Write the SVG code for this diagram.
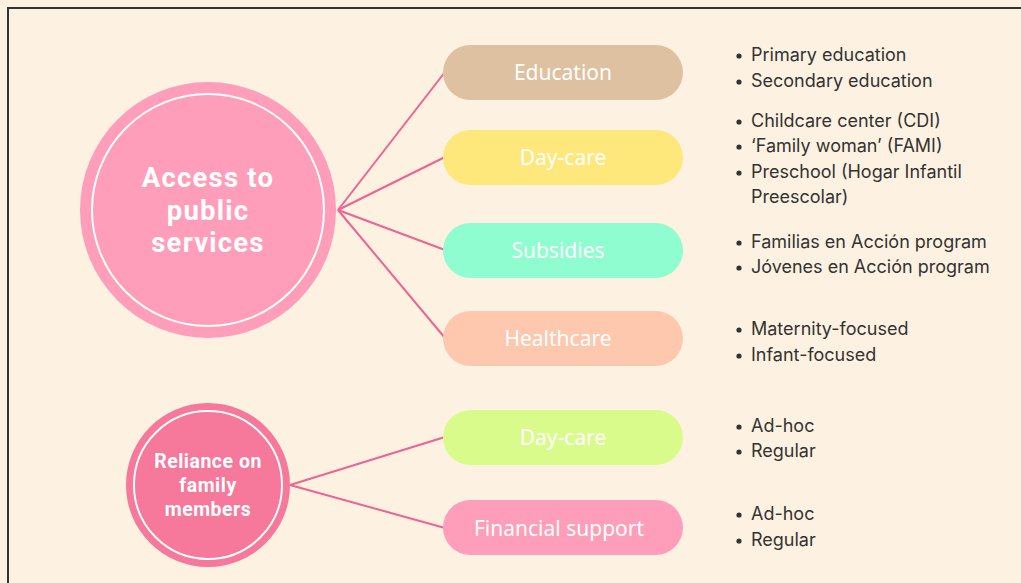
<svg xmlns="http://www.w3.org/2000/svg" width="1021" height="583" viewBox="0 0 1021 583">
<defs>
<style>
.bg{fill:#FDF2E1}
.frame{fill:none;stroke:#333;stroke-width:2}
.pill{stroke:none}
.pl{font-family:"Noto Sans",Inter,sans-serif;font-size:21px;fill:#FFFFFF;text-anchor:middle}
.ct{font-family:Roboto,"Noto Sans",sans-serif;font-weight:700;fill:#FFFFFF;text-anchor:middle}
.bt{font-family:Inter,"Noto Sans",sans-serif;font-size:18px;fill:#333333}
.dot{fill:#333333}
.conn{stroke:#EE6390;stroke-width:2;fill:none}
.ring{fill:none;stroke:#FFFFFF;stroke-width:2}
</style>
</defs>
<rect class="bg" x="0" y="0" width="1021" height="583"/>
<rect class="frame" x="8" y="8" width="1030" height="600"/>
<g id="connectors">
<line class="conn" x1="338" y1="210" x2="445" y2="72"/>
<line class="conn" x1="338" y1="210" x2="445" y2="157"/>
<line class="conn" x1="338" y1="210" x2="445" y2="250"/>
<line class="conn" x1="338" y1="210" x2="445" y2="338"/>
<line class="conn" x1="290" y1="485" x2="445" y2="437"/>
<line class="conn" x1="290" y1="485" x2="445" y2="528"/>
</g>
<g id="access">
<circle cx="208" cy="210" r="128" fill="#FE9EBA"/>
<circle class="ring" cx="208" cy="210" r="116"/>
<text class="ct" font-size="27.5" letter-spacing="1.2" x="208" y="187">Access to</text>
<text class="ct" font-size="27.5" letter-spacing="1.2" x="208" y="220">public</text>
<text class="ct" font-size="27.5" letter-spacing="1.2" x="208" y="252">services</text>
</g>
<g id="reliance">
<circle cx="208" cy="485" r="82" fill="#F6789A"/>
<circle class="ring" cx="208" cy="485" r="74"/>
<text class="ct" font-size="19.5" letter-spacing="0.5" x="208" y="468">Reliance on</text>
<text class="ct" font-size="19.5" letter-spacing="0.5" x="208" y="492">family</text>
<text class="ct" font-size="19.5" letter-spacing="0.5" x="208" y="516">members</text>
</g>
<g id="education">
<rect class="pill" x="443" y="45" width="240" height="55" rx="27.5" fill="#DDC1A0"/>
<text class="pl" x="563" y="80">Education</text>
</g>
<g id="daycare1">
<rect class="pill" x="443" y="130" width="240" height="55" rx="27.5" fill="#FEE77B"/>
<text class="pl" x="563" y="165">Day-care</text>
</g>
<g id="subsidies">
<rect class="pill" x="443" y="223" width="240" height="55" rx="27.5" fill="#8FFDD0"/>
<text class="pl" x="558" y="258">Subsidies</text>
</g>
<g id="healthcare">
<rect class="pill" x="443" y="311" width="240" height="55" rx="27.5" fill="#FEC8AE"/>
<text class="pl" x="558" y="346">Healthcare</text>
</g>
<g id="daycare2">
<rect class="pill" x="443" y="410" width="240" height="55" rx="27.5" fill="#D9FB8C"/>
<text class="pl" x="563" y="445">Day-care</text>
</g>
<g id="financial">
<rect class="pill" x="443" y="500" width="240" height="55" rx="27.5" fill="#FE9EBA"/>
<text class="pl" x="559" y="536">Financial support</text>
</g>
<g id="bullets">
<circle class="dot" cx="739" cy="56" r="2.6"/><text class="bt" x="751" y="61">Primary education</text>
<circle class="dot" cx="739" cy="82" r="2.6"/><text class="bt" x="751" y="87">Secondary education</text>
<circle class="dot" cx="739" cy="122" r="2.6"/><text class="bt" x="751" y="127">Childcare center (CDI)</text>
<circle class="dot" cx="739" cy="147" r="2.6"/><text class="bt" x="751" y="152">‘Family woman’ (FAMI)</text>
<circle class="dot" cx="739" cy="173" r="2.6"/><text class="bt" x="751" y="178">Preschool (Hogar Infantil</text>
<text class="bt" x="751" y="203">Preescolar)</text>
<circle class="dot" cx="739" cy="243" r="2.6"/><text class="bt" x="751" y="248">Familias en Acción program</text>
<circle class="dot" cx="739" cy="268" r="2.6"/><text class="bt" x="751" y="273">Jóvenes en Acción program</text>
<circle class="dot" cx="739" cy="330" r="2.6"/><text class="bt" x="751" y="335">Maternity-focused</text>
<circle class="dot" cx="739" cy="356" r="2.6"/><text class="bt" x="751" y="361">Infant-focused</text>
<circle class="dot" cx="739" cy="427" r="2.6"/><text class="bt" x="751" y="432">Ad-hoc</text>
<circle class="dot" cx="739" cy="452" r="2.6"/><text class="bt" x="751" y="457">Regular</text>
<circle class="dot" cx="739" cy="515" r="2.6"/><text class="bt" x="751" y="520">Ad-hoc</text>
<circle class="dot" cx="739" cy="541" r="2.6"/><text class="bt" x="751" y="546">Regular</text>
</g>
</svg>
